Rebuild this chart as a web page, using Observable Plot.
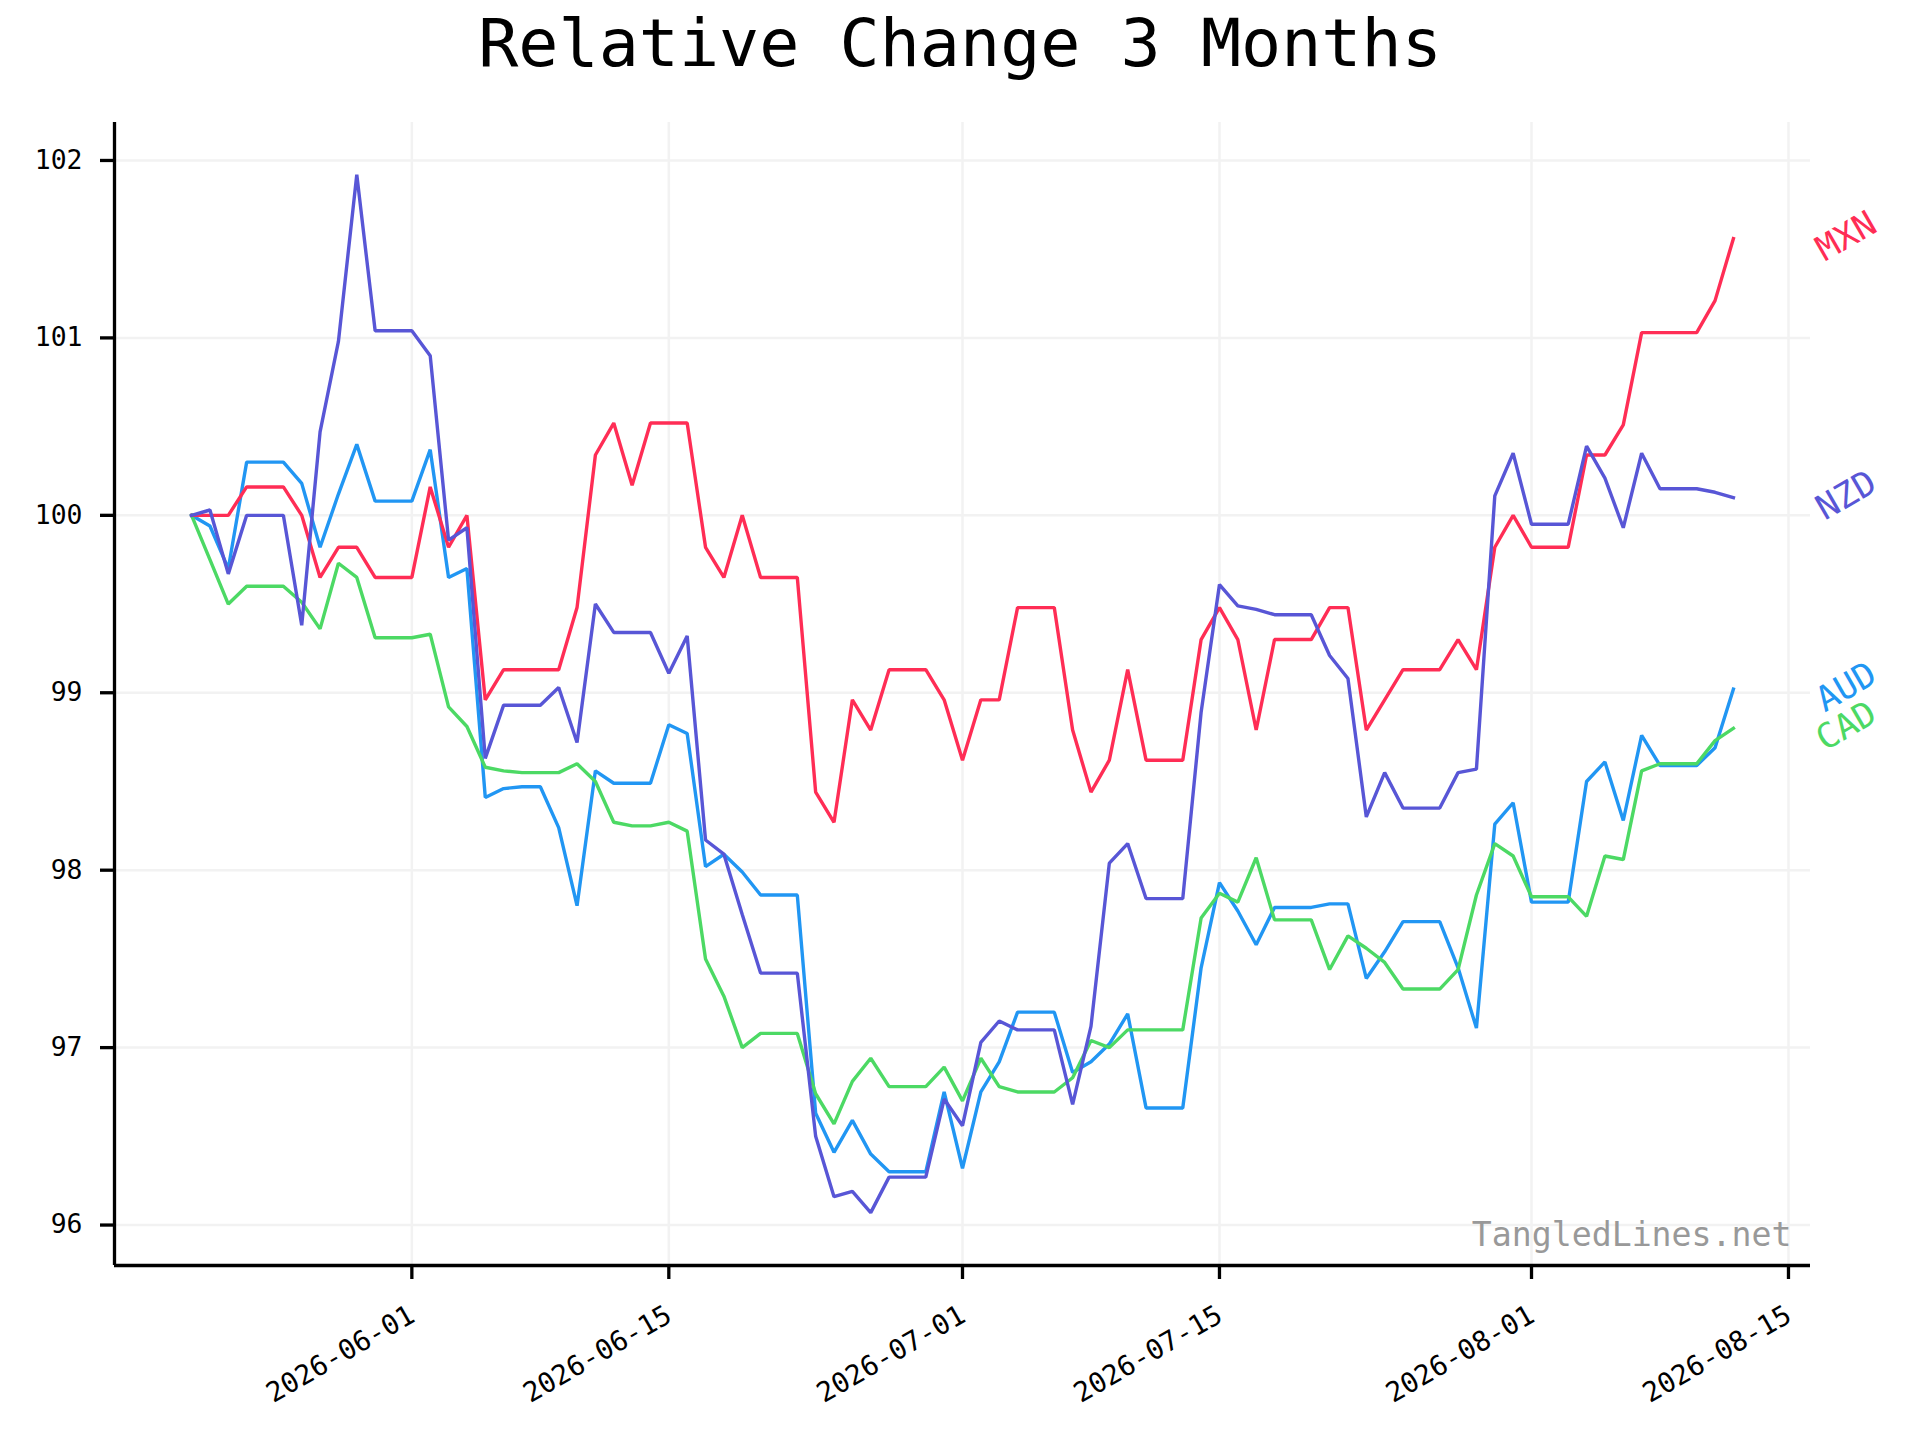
<!DOCTYPE html>
<html>
<head>
<meta charset="utf-8">
<script src="https://cdn.jsdelivr.net/npm/d3@7"></script>
<script src="https://cdn.jsdelivr.net/npm/@observablehq/plot@0.6"></script>
<style>
  html, body { margin: 0; padding: 0; background: #ffffff; }
  #wrap { width: 1920px; height: 1440px; position: relative; overflow: hidden; background: #fff; }
  #title { position: absolute; left: 0; top: 0; width: 1920px; height: 90px; text-align: center;
           font-family: "DejaVu Sans Mono", monospace; font-size: 66.7px; line-height: 86px; color: #000; white-space: pre; }
  #chart { position: absolute; left: 0; top: 90px; }
</style>
</head>
<body>
<div id="wrap">
  <div id="title">Relative Change 3 Months</div>
  <div id="chart"></div>
</div>
<script>
// ---- data ----
const startDate = "2026-05-20"; // first daily observation
const seriesNames = ["AUD", "CAD", "MXN", "NZD"];
const seriesColors = ["#2196f3", "#4cd964", "#ff2d55", "#5856d6"];

const MXN = [100.00,100.00,100.00,100.16,100.16,100.16,100.00,99.65,99.82,99.82,
  99.65,99.65,99.65,100.16,99.82,100.00,98.96,99.13,99.13,99.13,
  99.13,99.48,100.34,100.52,100.17,100.52,100.52,100.52,99.82,99.65,
  100.00,99.65,99.65,99.65,98.44,98.27,98.96,98.79,99.13,99.13,
  99.13,98.96,98.62,98.96,98.96,99.48,99.48,99.48,98.79,98.44,
  98.62,99.13,98.62,98.62,98.62,99.30,99.48,99.30,98.79,99.30,
  99.30,99.30,99.48,99.48,98.79,98.96,99.13,99.13,99.13,99.30,
  99.13,99.82,100.00,99.82,99.82,99.82,100.34,100.34,100.51,101.03,
  101.03,101.03,101.03,101.21,101.56];

const NZD = [100.00,100.03,99.67,100.00,100.00,100.00,99.38,100.47,100.98,101.92,
  101.04,101.04,101.04,100.90,99.86,99.93,98.63,98.93,98.93,98.93,
  99.03,98.72,99.50,99.34,99.34,99.34,99.11,99.32,98.17,98.09,
  97.75,97.42,97.42,97.42,96.50,96.16,96.19,96.07,96.27,96.27,
  96.27,96.71,96.56,97.03,97.15,97.10,97.10,97.10,96.68,97.12,
  98.04,98.15,97.84,97.84,97.84,98.89,99.61,99.49,99.47,99.44,
  99.44,99.44,99.21,99.08,98.30,98.55,98.35,98.35,98.35,98.55,
  98.57,100.11,100.35,99.95,99.95,99.95,100.39,100.21,99.93,100.35,
  100.15,100.15,100.15,100.13,100.10];

const AUD = [100.00,99.94,99.70,100.30,100.30,100.30,100.18,99.82,100.12,100.40,
  100.08,100.08,100.08,100.37,99.65,99.70,98.41,98.46,98.47,98.47,
  98.24,97.80,98.56,98.49,98.49,98.49,98.82,98.77,98.02,98.09,
  97.99,97.86,97.86,97.86,96.63,96.41,96.59,96.40,96.30,96.30,
  96.30,96.75,96.32,96.75,96.92,97.20,97.20,97.20,96.86,96.92,
  97.02,97.19,96.66,96.66,96.66,97.45,97.93,97.77,97.58,97.79,
  97.79,97.79,97.81,97.81,97.39,97.54,97.71,97.71,97.71,97.45,
  97.11,98.26,98.38,97.82,97.82,97.82,98.50,98.61,98.28,98.76,
  98.59,98.59,98.59,98.69,99.02];

const CAD = [100.00,99.75,99.50,99.60,99.60,99.60,99.51,99.36,99.73,99.65,
  99.31,99.31,99.31,99.33,98.92,98.81,98.58,98.56,98.55,98.55,
  98.55,98.60,98.50,98.27,98.25,98.25,98.27,98.22,97.50,97.29,
  97.00,97.08,97.08,97.08,96.74,96.57,96.81,96.94,96.78,96.78,
  96.78,96.89,96.70,96.94,96.78,96.75,96.75,96.75,96.83,97.04,
  97.00,97.10,97.10,97.10,97.10,97.73,97.87,97.82,98.07,97.72,
  97.72,97.72,97.44,97.63,97.56,97.48,97.33,97.33,97.33,97.44,
  97.86,98.15,98.08,97.85,97.85,97.85,97.74,98.08,98.06,98.56,
  98.60,98.60,98.60,98.73,98.80];

const yTicks = [96, 97, 98, 99, 100, 101, 102];
const xTickLabels = ["2026-06-01", "2026-06-15", "2026-07-01", "2026-07-15", "2026-08-01", "2026-08-15"];
const watermark = "TangledLines.net";

// ---- build table ----
const seriesValues = {AUD, CAD, MXN, NZD};
const start = d3.utcParse("%Y-%m-%d")(startDate);
const rows = [];
for (const name of seriesNames) {
  seriesValues[name].forEach((v, i) => rows.push({series: name, date: d3.utcDay.offset(start, i), value: v}));
}
const lastRows = seriesNames.map(name => rows.filter(r => r.series === name).at(-1));

const dayMs = 864e5;
const nDays = MXN.length - 1;
const xDomain = [new Date(+start - 4.2 * dayMs), new Date(+start + (nDays + 4.2) * dayMs)];
const yMin = 95.772, yMax = 102.214;
const xTicks = xTickLabels.map(d3.utcParse("%Y-%m-%d"));

const mono = "DejaVu Sans Mono";
const yTickFont = 26.4;
const xTickFont = 27.5;

const chart = Plot.plot({
  width: 1920,
  height: 1350,
  marginLeft: 114,
  marginRight: 110,
  marginTop: 32,
  marginBottom: 175,
  style: {fontFamily: mono, fontSize: yTickFont + "px", color: "#000", background: "#fff", overflow: "visible"},
  x: {type: "utc", domain: xDomain},
  y: {domain: [yMin, yMax]},
  marks: [
    Plot.gridX({ticks: xTicks, stroke: "#f2f2f2", strokeOpacity: 1, strokeWidth: 2.5}),
    Plot.gridY({ticks: yTicks, stroke: "#f2f2f2", strokeOpacity: 1, strokeWidth: 2.5}),
    ...seriesNames.map((name, i) => Plot.line(rows.filter(r => r.series === name), {
      x: "date", y: "value", stroke: seriesColors[i], strokeWidth: 3.4, strokeLinejoin: "miter", strokeLinecap: "square"
    })),
    Plot.ruleX([xDomain[0]], {stroke: "#000", strokeWidth: 3.3}),
    Plot.ruleY([yMin], {stroke: "#000", strokeWidth: 3.3}),
    Plot.axisY({ticks: yTicks, tickFormat: d3.format("d"), tickSize: 14, tickPadding: 18, strokeWidth: 3.3,
      stroke: "#000", fontSize: yTickFont, fill: "#000", label: null}),
    // x tick marks
    Plot.axisX({ticks: xTicks, tickFormat: () => "", tickSize: 14, strokeWidth: 3.3, stroke: "#000", label: null}),
    // x tick labels, rotated
    Plot.axisX({ticks: xTicks, tickFormat: d3.utcFormat("%Y-%m-%d"), tickSize: 0, tickPadding: 38, tickRotate: -30,
      textAnchor: "end", lineAnchor: "top", dx: -5, fontSize: xTickFont, fill: "#000", label: null}),
    Plot.text(lastRows, {
      x: "date", y: "value", text: "series", fill: d => seriesColors[seriesNames.indexOf(d.series)],
      rotate: -30, textAnchor: "middle", lineAnchor: "middle", dx: 113, dy: -2,
      fontSize: 34.7, fontFamily: mono, clip: false
    }),
    Plot.text([watermark], {frameAnchor: "bottom-right", textAnchor: "end", lineAnchor: "middle",
      dx: -19, dy: -30, fontSize: 33.2, fill: "#999999", fontFamily: mono})
  ]
});
document.getElementById("chart").appendChild(chart);
</script>
</body>
</html>
